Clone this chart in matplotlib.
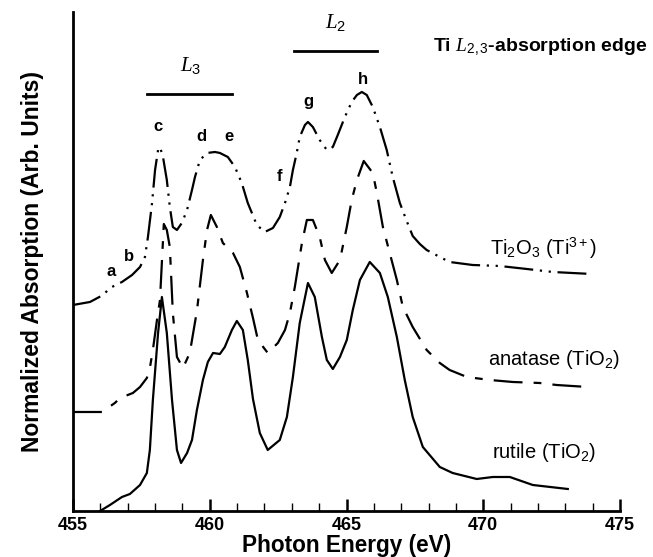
import numpy as np
import matplotlib
matplotlib.use("Agg")
import matplotlib.pyplot as plt

plt.rcParams["mathtext.fontset"] = "custom"
plt.rcParams["mathtext.rm"] = "Liberation Sans"
plt.rcParams["mathtext.it"] = "Liberation Serif:italic"

# photon energy (eV) and normalized absorption (arbitrary units, offset per spectrum)
rutile_x = [455.99, 456.35, 456.79, 457.08, 457.45, 457.70, 457.81, 457.92, 458.11, 458.25,
            458.43, 458.62, 458.80, 458.95, 459.17, 459.35, 459.53, 459.75, 459.93, 460.12,
            460.37, 460.55, 460.81, 460.99, 461.21, 461.39, 461.58, 461.83, 462.12, 462.56,
            462.82, 463.04, 463.29, 463.59, 463.84, 464.10, 464.28, 464.50, 464.76, 465.01,
            465.23, 465.49, 465.85, 466.22, 466.51, 466.84, 467.13, 467.42, 467.79, 468.41,
            468.88, 469.76, 470.35, 470.97, 471.81, 473.09]
rutile_y = [0, 6, 14, 17, 26, 38, 61, 111, 178, 214,
            178, 111, 61, 48, 58, 71, 101, 131, 149, 158,
            157, 164, 181, 190, 181, 151, 112, 78, 61, 71,
            94, 134, 188, 228, 214, 174, 151, 142, 154, 171,
            201, 231, 249, 238, 214, 174, 131, 94, 64, 44,
            38, 32, 34, 34, 26, 22]

anatase_x = [455.00, 456.06, 456.53, 456.72, 457.19, 457.45, 457.70, 457.81, 457.92, 458.07,
             458.18, 458.32, 458.43, 458.54, 458.65, 458.80, 459.02, 459.27, 459.53, 459.75,
             459.90, 460.04, 460.26, 460.48, 460.85, 461.10, 461.36, 461.58, 461.76, 462.12,
             462.49, 462.75, 462.93, 463.11, 463.37, 463.55, 463.77, 464.02, 464.21, 464.46,
             464.76, 465.01, 465.19, 465.38, 465.63, 465.96, 466.11, 466.33, 466.58, 466.84,
             467.06, 467.42, 467.93, 468.41, 468.77, 469.40, 470.24, 471.08, 472.06, 472.68,
             473.82]
anatase_y = [99, 99, 108, 113, 118, 124, 133, 143, 161, 191,
             211, 287, 281, 264, 198, 154, 143, 158, 200, 251,
             281, 296, 284, 268, 258, 244, 218, 193, 171, 158,
             168, 181, 198, 224, 268, 291, 291, 274, 251, 238,
             251, 284, 311, 331, 350, 338, 318, 284, 258, 231,
             204, 184, 161, 148, 141, 134, 131, 129, 128, 126,
             124]

ti2o3_x = [455.00, 455.62, 456.10, 456.35, 456.79, 457.16, 457.45, 457.63, 457.74, 457.89,
           458.00, 458.11, 458.18, 458.29, 458.43, 458.54, 458.65, 458.80, 458.98, 459.17,
           459.35, 459.46, 459.64, 459.90, 460.19, 460.37, 460.66, 460.92, 461.17, 461.39,
           461.54, 461.72, 462.01, 462.31, 462.56, 462.75, 462.93, 463.04, 463.18, 463.29,
           463.48, 463.59, 463.77, 464.02, 464.28, 464.50, 464.68, 464.94, 465.19, 465.38,
           465.56, 465.74, 465.96, 466.22, 466.47, 466.69, 466.95, 467.20, 467.42, 467.68,
           467.93, 468.41, 468.77, 469.61, 470.60, 471.59, 472.54, 473.96]
ti2o3_y = [206, 209, 216, 223, 229, 236, 244, 254, 274, 308,
           341, 361, 364, 354, 331, 304, 284, 281, 288, 301,
           321, 334, 351, 358, 359, 358, 354, 344, 328, 308,
           298, 286, 279, 283, 294, 308, 324, 341, 358, 374,
           386, 389, 384, 371, 361, 364, 376, 394, 409, 416,
           419, 416, 404, 384, 361, 334, 308, 290, 275, 267,
           261, 254, 249, 246, 245, 242, 239, 237]

peak_labels = ["a", "b", "c", "d", "e", "f", "g", "h"]
peak_label_x = [456.4, 457.05, 458.1, 459.7, 460.7, 462.55, 463.6, 465.6]
peak_label_y = [239, 254, 384, 374, 374, 334, 409, 431]

fig = plt.figure(figsize=(6.53, 5.57), dpi=100)
ax = fig.add_axes([0.1118, 0.0826, 0.8377, 0.8959])

lw = 1.6
ax.plot(ti2o3_x, ti2o3_y, color="black", lw=lw, dashes=(13, 3, 1, 3, 1, 3))
ax.plot(anatase_x, anatase_y, color="black", lw=lw, dashes=(13, 5, 3.5, 5))
ax.plot(rutile_x, rutile_y, color="black", lw=lw, solid_joinstyle="round")

ax.set_xlim(455, 475)
ax.set_ylim(0, 499)
ax.spines["top"].set_visible(False)
ax.spines["right"].set_visible(False)
ax.spines["left"].set_linewidth(2)
ax.spines["bottom"].set_linewidth(2)
ax.set_yticks([])
ax.set_xticks(np.arange(455, 476, 5))
ax.set_xticks(np.arange(455, 476, 1), minor=True)
ax.tick_params(axis="x", which="major", direction="in", length=8.5, width=1.8, pad=4)
ax.tick_params(axis="x", which="minor", direction="in", length=5.5, width=1)
for t in ax.get_xticklabels():
    t.set_fontfamily("Liberation Sans")
    t.set_fontweight("bold")
    t.set_fontsize(13)

ax.set_xlabel("Photon Energy (eV)", fontfamily="Liberation Sans", fontweight="bold",
              fontsize=16.3, labelpad=0)
ax.set_ylabel("Normalized Absorption (Arb. Units)", fontfamily="Liberation Sans",
              fontweight="bold", fontsize=16.5, labelpad=21)

# edge brackets
ax.plot([457.72, 460.8], [417, 417], color="black", lw=2)
ax.plot([463.07, 466.1], [460, 460], color="black", lw=2)
ax.text(459.3, 435, r"$L_{\mathit{3}}$", fontsize=15, ha="center", va="bottom")
ax.text(464.6, 478, r"$L_{\mathit{2}}$", fontsize=15, ha="center", va="bottom")
ax.text(476.0, 464, r"Ti $L_{\mathit{2,3}}$-absorption edge", fontfamily="Liberation Sans",
        fontweight="bold", fontsize=14, ha="right", va="center")

for lab, lx, ly in zip(peak_labels, peak_label_x, peak_label_y):
    ax.text(lx, ly, lab, fontfamily="Liberation Sans", fontweight="bold", fontsize=12,
            ha="center", va="center")

ax.text(470.24, 263, r"Ti$_2$O$_3$ (Ti$^{3+}$)", fontfamily="Liberation Sans",
        fontsize=14.5, ha="left", va="center")
ax.text(470.16, 151, r"anatase (TiO$_2$)", fontfamily="Liberation Sans",
        fontsize=14.5, ha="left", va="center")
ax.text(470.31, 58, r"rutile (TiO$_2$)", fontfamily="Liberation Sans",
        fontsize=14.5, ha="left", va="center")

fig.savefig("out.png", dpi=100)
